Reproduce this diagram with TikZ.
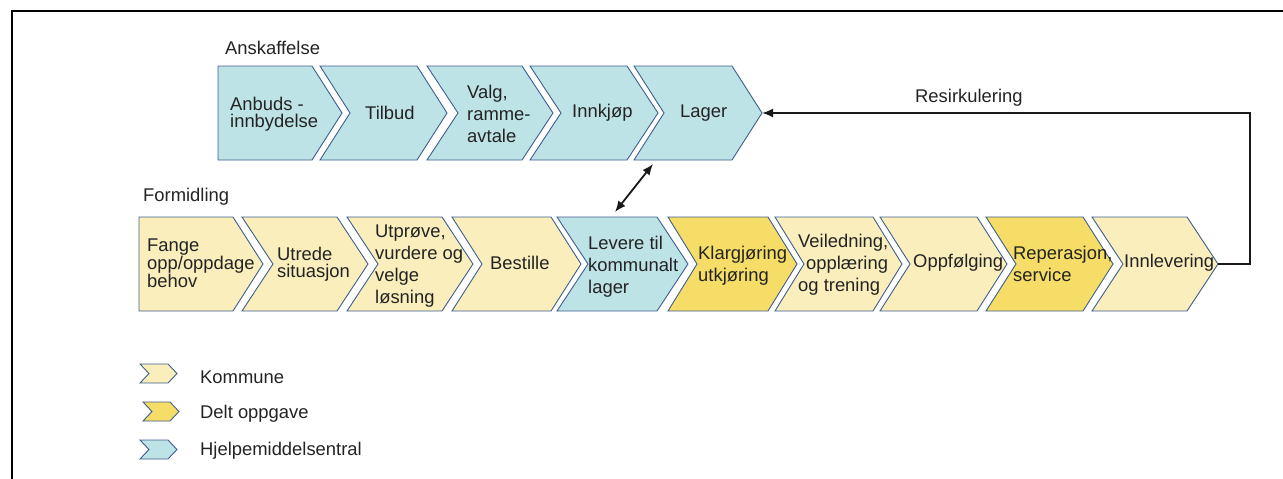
\documentclass[tikz,border=0pt]{standalone}
\usepackage{fontspec}
\setmainfont{Liberation Sans}
\usetikzlibrary{arrows.meta}

\definecolor{hmsfill}{RGB}{190,227,231}
\definecolor{komfill}{RGB}{250,238,188}
\definecolor{deltfill}{RGB}{245,221,103}
\definecolor{chevline}{RGB}{62,94,140}
\definecolor{txt}{RGB}{35,35,35}

% chevron with notched left side: style, left x, top-right x, tip x, top y, bottom y
\newcommand{\chevnotch}[6]{%
  \filldraw[#1] (#2,#5) -- (#3,#5) -- (#4,{(#5+#6)/2}) -- (#3,#6) -- (#2,#6)
    -- ({#2+#4-#3},{(#5+#6)/2}) -- cycle;}
% chevron with a straight left side
\newcommand{\chevflat}[6]{%
  \filldraw[#1] (#2,#5) -- (#3,#5) -- (#4,{(#5+#6)/2}) -- (#3,#6) -- (#2,#6) -- cycle;}

\tikzset{
  hms/.style={fill=hmsfill, draw=chevline, line width=0.9pt},
  kom/.style={fill=komfill, draw=chevline, line width=0.9pt},
  delt/.style={fill=deltfill, draw=chevline, line width=0.9pt},
  lbl/.style={anchor=west, inner sep=0pt, align=left, text=txt,
    font=\fontsize{18.4}{22}\selectfont},
  tight/.style={font=\fontsize{18.4}{17}\selectfont},
  conn/.style={draw=black!90, line width=1.8pt},
  tip/.style={-{Latex[length=11pt,width=9pt]}},
  tips/.style={{Latex[length=11pt,width=9pt]}-{Latex[length=11pt,width=9pt]}}
}

\begin{document}
\begin{tikzpicture}[x=1pt,y=-1pt]
\useasboundingbox (0,0) rectangle (1283,479);

% frame
\draw[line width=2.6pt] (12,479) -- (12,11) -- (1283,11);

% procurement row
\node[lbl] (hAnsk) at (225,48) {Anskaffelse};
\chevflat{hms}{218}{312}{342}{66}{160}
\chevnotch{hms}{320}{417}{447}{66}{160}
\chevnotch{hms}{427}{522}{553}{66}{160}
\chevnotch{hms}{530}{627}{658}{66}{160}
\chevnotch{hms}{634}{732}{762}{66}{160}
\node[lbl,tight] (anbud) at (230,114) {Anbuds -\\innbydelse};
\node[lbl] (tilbud) at (365,113) {Tilbud};
\node[lbl] (valg) at (467,114) {Valg,\\ramme-\\avtale};
\node[lbl] (innkjop) at (572,113) {Innkjøp};
\node[lbl] (lager) at (680,113) {Lager};
\coordinate (lagerTip) at (762,113);
\coordinate (lagerFoot) at (653,164);

% mediation row
\node[lbl] (hForm) at (143,197) {Formidling};
\chevflat{kom}{139}{233}{263}{217}{311}
\chevnotch{kom}{242}{337}{368}{217}{311}
\chevnotch{kom}{347}{442}{473}{217}{311}
\chevnotch{kom}{452}{551}{581}{217}{311}
\chevnotch{hms}{557}{657}{688}{217}{311}
\chevnotch{delt}{668}{768}{797}{217}{311}
\chevnotch{kom}{775}{873}{902}{217}{311}
\chevnotch{kom}{880}{977}{1007}{217}{311}
\chevnotch{delt}{986}{1083}{1113}{217}{311}
\chevnotch{kom}{1092}{1187}{1218}{217}{311}
\node[lbl,tight] (fange) at (147,263) {Fange\\opp/oppdage\\behov};
\node[lbl,tight] (utrede) at (277,264) {Utrede\\situasjon};
\node[lbl] (utprove) at (375,266) {Utprøve,\\vurdere og\\velge\\løsning};
\node[lbl] (bestille) at (490,263) {Bestille};
\node[lbl] (levere) at (588,267) {Levere til\\kommunalt\\lager};
\node[lbl] (klar) at (698,266) {Klargjøring\\utkjøring};
\node[lbl] (veil) at (798,265) {Veiledning,\\\hspace*{8pt}opplæring\\og trening};
\node[lbl] (oppf) at (913,263) {Oppfølging};
\node[lbl] (rep) at (1013,264) {Reperasjon,\\service};
\node[lbl] (innlev) at (1124,263) {Innlevering};
\coordinate (levereHead) at (615,212);
\coordinate (innlevTip) at (1218,264);

% connectors
\draw[conn,tips] (levereHead) -- (lagerFoot);
\draw[conn,tip] (innlevTip) -- (1250,264) |- (lagerTip);
\node[lbl] (resirk) at (915,98) {Resirkulering};

% legend
\chevnotch{kom}{140}{168}{177}{364}{383}
\chevnotch{delt}{143}{170}{179}{402}{421}
\chevnotch{hms}{140}{168}{177}{440}{459}
\node[lbl] (lgKom) at (200,377) {Kommune};
\node[lbl] (lgDelt) at (200,414) {Delt oppgave};
\node[lbl] (lgHms) at (200,451) {Hjelpemiddelsentral};
\end{tikzpicture}
\end{document}
